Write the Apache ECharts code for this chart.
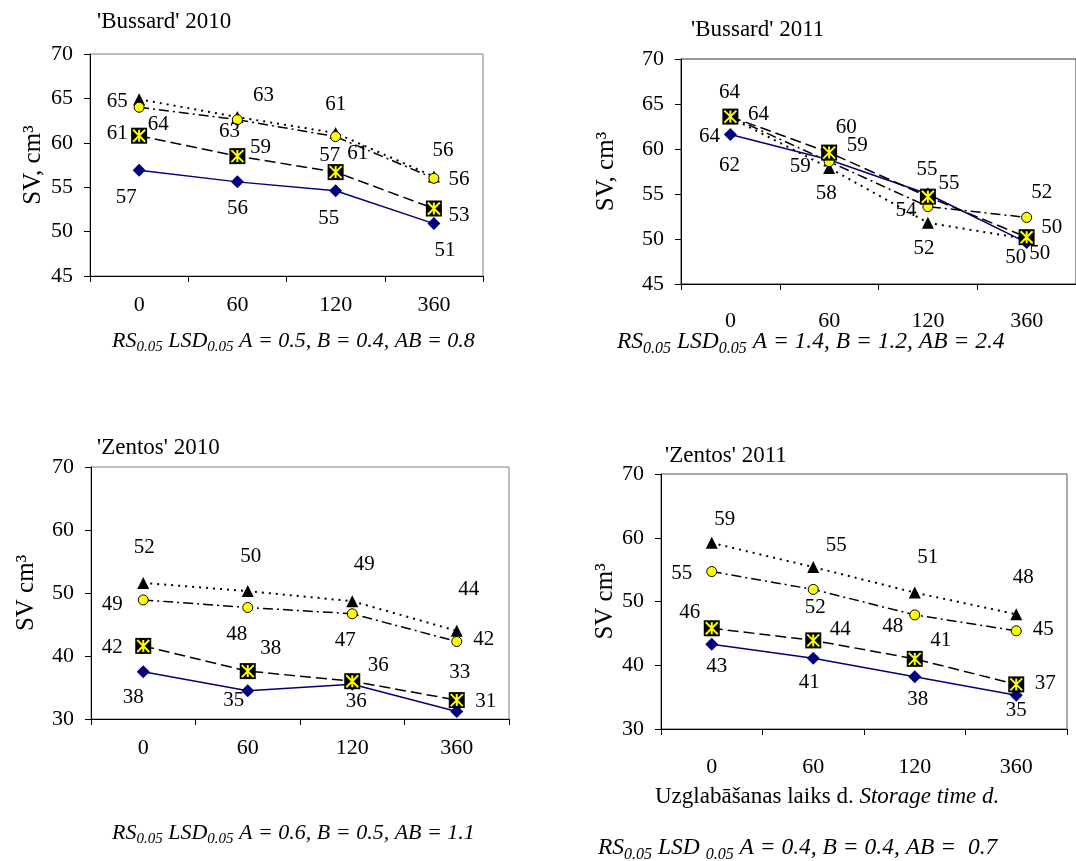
<!DOCTYPE html>
<html><head><meta charset="utf-8">
<script src="https://cdn.jsdelivr.net/npm/echarts@6/dist/echarts.min.js"></script>
<style>html,body{margin:0;padding:0;background:#fff}#c{width:1076px;height:861px}</style>
</head><body><div id="c"></div>
<script>
// ---- data ----
const categories = ['0', '60', '120', '360'];
const panelTitles = ["'Bussard' 2010", "'Bussard' 2011", "'Zentos' 2010", "'Zentos' 2011"];
const yNames = ['SV, cm³', 'SV, cm³', 'SV cm³', 'SV cm³'];
const yMin = [45, 45, 30, 30];
const yMax = [70, 70, 70, 70];
const yStep = [5, 5, 10, 10];

// Bussard 2010
const b2010_diamond  = [56.9, 55.6, 54.6, 50.9];
const b2010_square   = [60.8, 58.5, 56.7, 52.6];
const b2010_circle   = [64.0, 62.6, 60.7, 56.0];
const b2010_triangle = [64.9, 62.9, 61.1, 56.2];
// Bussard 2011
const b2011_diamond  = [61.6, 58.8, 55.0, 49.6];
const b2011_square   = [63.6, 59.6, 54.7, 50.2];
const b2011_circle   = [63.6, 58.6, 53.6, 52.4];
const b2011_triangle = [63.5, 57.9, 51.8, 50.0];
// Zentos 2010
const z2010_diamond  = [37.5, 34.5, 35.5, 31.2];
const z2010_square   = [41.6, 37.6, 36.0, 33.0];
const z2010_circle   = [48.9, 47.7, 46.7, 42.3];
const z2010_triangle = [51.6, 50.3, 48.7, 44.0];
// Zentos 2011
const z2011_diamond  = [43.3, 41.1, 38.2, 35.3];
const z2011_square   = [45.8, 43.9, 41.0, 37.0];
const z2011_circle   = [54.7, 51.9, 47.9, 45.4];
const z2011_triangle = [59.2, 55.4, 51.4, 48.0];

const captions = [
  ['0.05', '0.05', ' A = 0.5, B = 0.4, AB = 0.8', ''],
  ['0.05', '0.05', ' A = 1.4, B = 1.2, AB = 2.4', ''],
  ['0.05', '0.05', ' A = 0.6, B = 0.5, AB = 1.1', ''],
  ['0.05', '0.05', ' A = 0.4, B = 0.4, AB =  0.7', ' ']
];

// ---- layout (not data) ----
const grids = [
  {left: 90, top: 54, width: 393, height: 222},
  {left: 681, top: 59, width: 404, height: 225},
  {left: 91, top: 467, width: 418, height: 252},
  {left: 661, top: 474, width: 406, height: 255}
];
const gridBorder = ['#808080', '#303030', '#808080', '#555555'];
const xLabelMargin = [18, 26, 18, 27];
const yNameGap = [44, 62, 52, 40];
const titlePos = [[97, 10], [691, 18], [97, 436], [665, 444]];
const captionPos = [[112, 341], [617, 342], [112, 833], [598, 848]];
const captionFont = [[22, 15], [23.5, 16], [22, 15], [23.5, 16]];

// label offsets [dx, dy] per panel, series order: diamond, square, circle, triangle
const labelOffsets = [
  [ [[-13,27],[0,27],[-7,28],[11,27]],
    [[-22,-2],[23,-9],[-6,-17],[25,7]],
    [[19,17],[-8,12],[22,17],[25,1]],
    [[-22,2],[26,-22],[0,-29],[9,-26]] ],
  [ [[-1,31],[-29,7],[21,-11],[-11,15]],
    [[-1,-24],[17,-25],[-1,-27],[25,-10]],
    [[28,-2],[28,-16],[-22,4],[15,-25]],
    [[-21,19],[-3,26],[-4,26],[13,14]] ],
  [ [[-10,26],[-14,10],[4,17],[29,-10]],
    [[-31,2],[23,-23],[26,-16],[3,-28]],
    [[-31,5],[-11,27],[-7,27],[27,-2]],
    [[1,-35],[3,-35],[12,-37],[12,-41]] ],
  [ [[5,22],[-4,24],[3,23],[0,15]],
    [[-22,-16],[27,-11],[26,-18],[29,-1]],
    [[-30,2],[2,18],[-22,12],[27,-1]],
    [[13,-23],[23,-22],[13,-35],[7,-37]] ]
];

const panels = [
  [b2010_diamond, b2010_square, b2010_circle, b2010_triangle],
  [b2011_diamond, b2011_square, b2011_circle, b2011_triangle],
  [z2010_diamond, z2010_square, z2010_circle, z2010_triangle],
  [z2011_diamond, z2011_square, z2011_circle, z2011_triangle]
];

const FONT = 'Liberation Serif';
const FS = 21;
const TICK_FS = 22;

const styles = [
  {symbol: 'diamond', symbolSize: 13, itemStyle: {color: '#000080'}, lineStyle: {color: '#000080', width: 1.5, type: 'solid'}, z: 2},
  {symbol: 'rect', symbolSize: 16, itemStyle: {color: '#000000'}, lineStyle: {color: '#000000', width: 1.5, type: [11, 5]}, z: 5},
  {symbol: 'circle', symbolSize: 10, itemStyle: {color: '#ffff00', borderColor: '#000', borderWidth: 1}, lineStyle: {color: '#000000', width: 1.5, type: [10, 4, 2, 4]}, z: 4},
  {symbol: 'triangle', symbolSize: 12, itemStyle: {color: '#000000'}, lineStyle: {color: '#000000', width: 2, type: [2, 5]}, z: 3}
];

const series = [];
panels.forEach((pan, gi) => {
  pan.forEach((vals, si) => {
    const st = styles[si];
    series.push({
      type: 'line', xAxisIndex: gi, yAxisIndex: gi,
      symbol: st.symbol, symbolSize: st.symbolSize, showAllSymbol: true,
      itemStyle: st.itemStyle, lineStyle: st.lineStyle, z: st.z,
      data: vals.map((v, i) => ({value: v, label: {offset: labelOffsets[gi][si][i]}})),
      label: {show: true, position: 'inside', fontFamily: FONT, fontSize: FS, color: '#000',
              formatter: p => String(Math.round(p.value))},
      emphasis: {disabled: true}
    });
  });
  // yellow asterisk on black squares
  series.push({
    type: 'line', xAxisIndex: gi, yAxisIndex: gi,
    symbol: 'path://M0,0L10,10M10,0L0,10M5,0L5,10', symbolSize: 12, showAllSymbol: true,
    itemStyle: {color: 'none', borderColor: '#ffff00', borderWidth: 2},
    lineStyle: {opacity: 0}, z: 6, silent: true,
    data: pan[1], label: {show: false}, emphasis: {disabled: true}
  });
});

const option = {
  animation: false,
  backgroundColor: '#fff',
  textStyle: {fontFamily: FONT},
  title: panelTitles.map((t, i) => ({
    text: t, left: titlePos[i][0], top: titlePos[i][1], padding: 0,
    textStyle: {fontFamily: FONT, fontWeight: 'normal', fontSize: 23, color: '#000'}
  })),
  grid: grids.map((g, i) => Object.assign({show: true, borderColor: gridBorder[i], borderWidth: 1, containLabel: false}, g)),
  xAxis: grids.map((g, i) => ({
    type: 'category', gridIndex: i, data: categories, boundaryGap: true,
    axisLine: {lineStyle: {color: '#000', width: 1}},
    axisTick: {show: true, length: 6, alignWithLabel: false, lineStyle: {color: '#000'}},
    axisLabel: {fontFamily: FONT, fontSize: TICK_FS, color: '#000', margin: xLabelMargin[i]},
    splitLine: {show: false}
  })),
  yAxis: grids.map((g, i) => ({
    type: 'value', gridIndex: i, min: yMin[i], max: yMax[i], interval: yStep[i],
    axisLine: {show: true, lineStyle: {color: '#000', width: 1}},
    axisTick: {show: true, length: 6, lineStyle: {color: '#000'}},
    axisLabel: {fontFamily: FONT, fontSize: TICK_FS, color: '#000', margin: 17},
    splitLine: {show: false},
    name: yNames[i], nameLocation: 'middle', nameGap: yNameGap[i], nameRotate: 90,
    nameTextStyle: {fontFamily: FONT, fontSize: 25, color: '#000'}
  })),
  graphic: captions.map((c, i) => ({
    type: 'text', x: captionPos[i][0], y: captionPos[i][1],
    style: {
      text: '{i|RS}{s|' + c[0] + '}{i| LSD' + c[3] + '}{s|' + c[1] + '}{i|' + c[2] + '}',
      verticalAlign: 'middle', align: 'left', fill: '#000',
      rich: {
        i: {fontFamily: FONT, fontStyle: 'italic', fontSize: captionFont[i][0], lineHeight: captionFont[i][0] + 6, verticalAlign: 'middle'},
        s: {fontFamily: FONT, fontStyle: 'italic', fontSize: captionFont[i][1], lineHeight: captionFont[i][1] + 1, verticalAlign: 'bottom'}
      }
    }
  })).concat([{
    type: 'text', x: 655, y: 797,
    style: {
      text: '{n|Uzglabāšanas laiks d. }{i|Storage time d.}',
      verticalAlign: 'middle', align: 'left', fill: '#000',
      rich: {
        n: {fontFamily: FONT, fontSize: 23},
        i: {fontFamily: FONT, fontStyle: 'italic', fontSize: 23}
      }
    }
  }]),
  series: series
};

const chart = echarts.init(document.getElementById('c'), null, {renderer: 'canvas'});
chart.setOption(option);
</script>
</body></html>
